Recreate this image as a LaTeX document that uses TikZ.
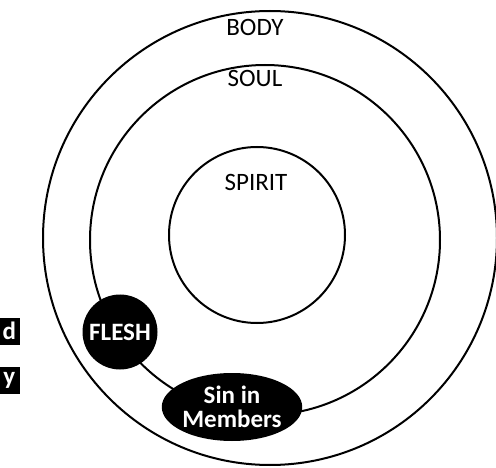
\documentclass[tikz,border=0pt]{standalone}
\usepackage{fontspec}
\setmainfont{Carlito}
\usetikzlibrary{positioning,shapes.geometric}
\tikzset{
  ring/.style={draw,circle,line width=2pt,inner sep=0pt},
  blob/.style={fill=black,text=white,font=\fontsize{25}{27}\selectfont\bfseries,
               inner sep=0pt,align=center},
  lbl/.style={font=\fontsize{25}{27}\selectfont,inner sep=0pt},
  tag/.style={fill=black,text=white,font=\fontsize{25}{27}\selectfont\bfseries,
              inner sep=0pt,minimum height=27pt,minimum width=21pt},
}
\begin{document}
\begin{tikzpicture}[x=1pt,y=-1pt]
\useasboundingbox (0,0) rectangle (496,468);
% rings
\node[ring,minimum size=454pt] (body) at (270,238) {};
\node[ring,minimum size=350pt] (soul) at (265,240) {};
\node[ring,minimum size=176pt] (spirit) at (257,235) {};
% ring labels
\node[lbl] (bodytxt) at (255,27) {BODY};
\node[lbl] (soultxt) at (255,78) {SOUL};
\node[lbl] (spirittxt) at (256,182) {SPIRIT};
% black blobs
\node[blob,circle,minimum size=75pt] (flesh) at (120,332) {FLESH};
\node[blob,ellipse,minimum width=122pt,minimum height=68pt] (sin) at (232,407)
  {Sin in\\[-3pt]Members};
% cut-off tags at the left edge
\node[tag,anchor=east] (tagd) at (20,331) {d};
\node[tag,anchor=east] (tagy) at (20,380) {y};
\end{tikzpicture}
\end{document}
